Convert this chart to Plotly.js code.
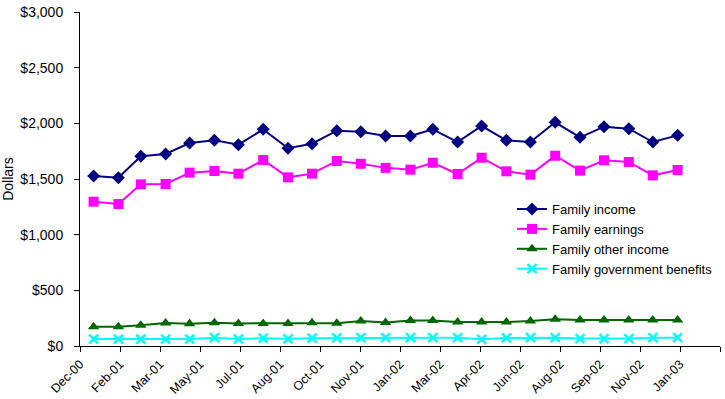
<!DOCTYPE html>
<html>
<head>
<meta charset="utf-8">
<script src="https://cdn.plot.ly/plotly-3.0.1.min.js"></script>
<style>
  html, body { margin: 0; padding: 0; background: #fff; }
  #chart { width: 725px; height: 399px; }
</style>
</head>
<body>
<div id="chart"></div>
<script>
// Monthly family income components, Jan 2001 - Jan 2003
const months = [
  '2001-01-01', '2001-02-01', '2001-03-01', '2001-04-01', '2001-05-01', '2001-06-01',
  '2001-07-01', '2001-08-01', '2001-09-01', '2001-10-01', '2001-11-01', '2001-12-01',
  '2002-01-01', '2002-02-01', '2002-03-01', '2002-04-01', '2002-05-01', '2002-06-01',
  '2002-07-01', '2002-08-01', '2002-09-01', '2002-10-01', '2002-11-01', '2002-12-01',
  '2003-01-01'
];

const familyIncome = [
  1527, 1512, 1704, 1725, 1823, 1848, 1808, 1946, 1776, 1817, 1934, 1925,
  1886, 1886, 1946, 1832, 1976, 1848, 1832, 2009, 1874, 1970, 1952, 1832, 1892
];
const familyEarnings = [
  1296, 1275, 1452, 1455, 1557, 1572, 1548, 1671, 1515, 1548, 1662, 1637,
  1600, 1584, 1646, 1545, 1691, 1569, 1539, 1709, 1575, 1668, 1653, 1533, 1581
];
const familyOther = [
  172, 173, 186, 206, 200, 209, 203, 203, 203, 209, 205, 225,
  210, 230, 228, 215, 215, 215, 225, 240, 233, 233, 233, 233, 233
];
const familyGovt = [
  62, 62, 62, 62, 62, 75, 62, 70, 65, 70, 72, 75,
  75, 75, 75, 75, 60, 72, 75, 75, 67, 67, 67, 75, 75
];

// Excel-style date axis labels (one every 50 days from the axis start)
const tickLabels = [
  'Dec-00', 'Feb-01', 'Mar-01', 'May-01', 'Jul-01', 'Aug-01', 'Oct-01', 'Nov-01',
  'Jan-02', 'Mar-02', 'Apr-02', 'Jun-02', 'Aug-02', 'Sep-02', 'Nov-02', 'Jan-03', 'Feb-03'
];

const axisStart = Date.UTC(2000, 11, 15);
const dayMs = 864e5;
const tickDates = tickLabels.map((_, k) =>
  new Date(axisStart + k * 50 * dayMs).toISOString().slice(0, 10));
const axisEnd = new Date(axisStart + 800 * dayMs).toISOString().slice(0, 10);

const family = 'Liberation Sans, Arial, sans-serif';
const font = { family, size: 14, color: '#000' };
const xFont = { family, size: 12.5, color: '#000' };

function series(name, y, color, symbol, size) {
  return {
    x: months, y, name, type: 'scatter', mode: 'lines+markers',
    line: { color, width: 2 },
    marker: { color, symbol, size, line: { color, width: symbol === 'x-thin' ? 2.5 : 0 } },
    hoverinfo: 'x+y'
  };
}

const traces = [
  series('Family income', familyIncome, '#000080', 'diamond', 10),
  series('Family earnings', familyEarnings, '#ff00ff', 'square', 10),
  series('Family other income', familyOther, '#006600', 'triangle-up', 10),
  series('Family government benefits', familyGovt, '#00ffff', 'x-thin', 9)
];

const layout = {
  width: 725, height: 399,
  margin: { l: 80, r: 5, t: 12, b: 53 },
  paper_bgcolor: '#fff', plot_bgcolor: '#fff',
  font,
  showlegend: true,
  legend: {
    x: 0.675, y: 0.455, xanchor: 'left', yanchor: 'top',
    font: { family, size: 13, color: '#000' },
    bgcolor: 'rgba(0,0,0,0)', tracegroupgap: 0, itemwidth: 30
  },
  xaxis: {
    type: 'date',
    range: [tickDates[0], axisEnd],
    tickmode: 'array', tickvals: tickDates, ticktext: tickLabels,
    tickangle: -45,
    ticks: 'outside', ticklen: 5, tickcolor: '#000',
    showline: true, linecolor: '#000', linewidth: 1,
    showgrid: false, zeroline: false,
    tickfont: xFont
  },
  yaxis: {
    range: [0, 3000],
    tickmode: 'linear', tick0: 0, dtick: 500,
    tickprefix: '$', separatethousands: true, tickformat: ',d',
    ticks: 'outside', ticklen: 5, tickcolor: '#000',
    showline: true, linecolor: '#000', linewidth: 1,
    showgrid: false, zeroline: false,
    ticklabelstandoff: 8,
    tickfont: font,
    title: { text: 'Dollars', font, standoff: 3 }
  }
};

Plotly.newPlot('chart', traces, layout, { displayModeBar: false, staticPlot: true });
</script>
</body>
</html>
